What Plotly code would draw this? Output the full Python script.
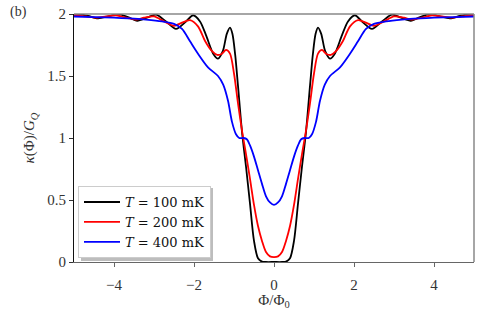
import plotly.graph_objects as go

# ---- data (curves are symmetric in Phi) ----
x_black = [0, 0.2, 0.3, 0.4, 0.5, 0.6, 0.7, 0.8, 0.9, 0.97, 1.04, 1.1, 1.18, 1.28, 1.4, 1.52,
           1.7, 1.85, 2.02, 2.2, 2.45, 2.7, 2.95, 3.18, 3.42, 3.65, 3.9, 4.15, 4.4, 4.65, 4.9, 5.0]
y_black = [0.0, 0.0, 0.003, 0.03, 0.17, 0.47, 0.77, 1.05, 1.42, 1.67, 1.84, 1.89, 1.84, 1.70, 1.64, 1.68,
           1.83, 1.94, 1.99, 1.94, 1.88, 1.94, 1.995, 1.97, 1.945, 1.975, 2.0, 1.98, 1.965, 1.985, 2.0, 1.997]

x_red = [0, 0.1, 0.2, 0.3, 0.4, 0.5, 0.6, 0.7, 0.8, 0.9, 1.0, 1.1, 1.2, 1.3, 1.42, 1.55,
         1.72, 1.9, 2.1, 2.3, 2.5, 2.75, 3.0, 3.25, 3.45, 3.7, 3.95, 4.2, 4.45, 4.7, 4.95, 5.0]
y_red = [0.04, 0.045, 0.08, 0.17, 0.29, 0.46, 0.67, 0.87, 1.06, 1.28, 1.52, 1.68, 1.71, 1.68, 1.67, 1.70,
         1.78, 1.90, 1.95, 1.93, 1.905, 1.94, 1.98, 1.97, 1.955, 1.97, 1.99, 1.98, 1.97, 1.98, 1.99, 1.99]

x_blue = [0, 0.1, 0.2, 0.3, 0.4, 0.5, 0.6, 0.68, 0.76, 0.87, 0.95, 1.05, 1.15, 1.27, 1.4, 1.65,
          1.9, 2.1, 2.3, 2.5, 2.8, 3.2, 3.6, 4.0, 4.5, 5.0]
y_blue = [0.46, 0.48, 0.53, 0.63, 0.74, 0.85, 0.94, 0.99, 1.0, 1.0, 1.03, 1.13, 1.30, 1.43, 1.50, 1.57,
          1.68, 1.78, 1.88, 1.92, 1.94, 1.955, 1.965, 1.97, 1.975, 1.98]

series_names = ["<i>T</i> = 100 mK", "<i>T</i> = 200 mK", "<i>T</i> = 400 mK"]
series_colors = ["black", "red", "blue"]
x_ticks = [-4, -2, 0, 2, 4]
y_ticks = [0, 0.5, 1, 1.5, 2]
y_ticklabels = ["0", "0.5", "1", "1.5", "2"]


def mirror(xs, ys):
    xf = [-v for v in reversed(xs[1:])] + list(xs)
    yf = list(reversed(ys[1:])) + list(ys)
    return xf, yf


FONT = "Liberation Serif"
fig = go.Figure()
for (xs, ys), name, col in zip([(x_black, y_black), (x_red, y_red), (x_blue, y_blue)],
                               series_names, series_colors):
    xf, yf = mirror(xs, ys)
    fig.add_trace(go.Scatter(x=xf, y=yf, mode="lines", name=name,
                             line=dict(color=col, width=1.8, shape="spline", smoothing=0.8),
                             cliponaxis=True))

fig.update_layout(
    width=498, height=310,
    margin=dict(l=74, r=24, t=14, b=48, autoexpand=False),
    paper_bgcolor="white", plot_bgcolor="white",
    font=dict(family=FONT, size=14, color="#222"),
    showlegend=True,
    legend=dict(x=0.01, y=0.016, xanchor="left", yanchor="bottom",
                bgcolor="white", bordercolor="#cccccc", borderwidth=1,
                font=dict(family="DejaVu Serif", size=13, color="#111"),
                tracegroupgap=0, itemwidth=36),
    xaxis=dict(range=[-5, 5], tickmode="array", tickvals=x_ticks,
               ticktext=["\u2212" + str(-v) if v < 0 else str(v) for v in x_ticks],
               showgrid=False, zeroline=False, showline=True, linecolor="#666", linewidth=1.2,
               ticks="outside", ticklen=4, tickcolor="#666", automargin=False,
               ticklabelstandoff=5,
               tickfont=dict(family=FONT, size=15, color="#333"),
               title=dict(text="\u03a6/\u03a6<sub>0</sub>", font=dict(family=FONT, size=15, color="#333"),
                          standoff=4)),
    yaxis=dict(range=[0, 2], tickmode="array", tickvals=y_ticks, ticktext=y_ticklabels,
               showgrid=False, zeroline=False, showline=True, linecolor="#111", linewidth=1.2,
               ticks="outside", ticklen=4, tickcolor="#333", automargin=False,
               tickfont=dict(family=FONT, size=15, color="#333"),
               title=dict(text="<i>\u03ba</i>(\u03a6)/<i>G</i><sub><i>Q</i></sub>",
                          font=dict(family=FONT, size=15, color="#333"), standoff=8)),
)

# top / right spines (lighter)
fig.add_shape(type="line", xref="paper", yref="paper", x0=0, x1=1, y0=1, y1=1,
              line=dict(color="#888", width=1.5))
fig.add_shape(type="line", xref="paper", yref="paper", x0=1, x1=1, y0=0, y1=1,
              line=dict(color="#888", width=1.5))
# legend shadow
fig.add_shape(type="rect", xref="paper", yref="paper", x0=0.0175, x1=0.3475, y0=0.004, y1=0.298,
              line=dict(width=0), fillcolor="#bdbdbd", layer="above")

fig.add_annotation(text="(b)", xref="paper", yref="paper", x=-0.165, y=1.01,
                   xanchor="left", yanchor="middle", showarrow=False,
                   font=dict(family=FONT, size=14, color="#333"))

fig.write_html("out.html", config={"displayModeBar": False},
               post_script="document.body.style.margin='0';")
